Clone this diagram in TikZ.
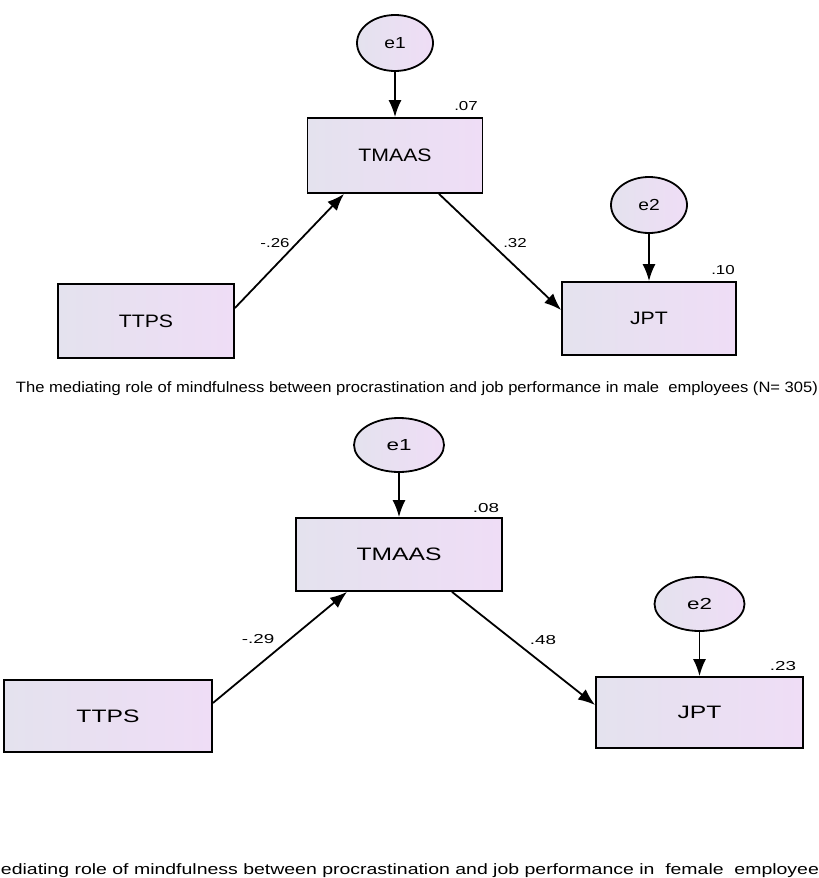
\documentclass[tikz,border=0pt]{standalone}
\usepackage{fontspec}
\setmainfont{Liberation Sans}
\usepackage{graphicx}
\usetikzlibrary{arrows.meta,shapes.geometric}
\definecolor{boxL}{RGB}{228,226,238}
\definecolor{boxR}{RGB}{239,221,246}
\newcommand{\sx}[2]{\scalebox{#1}[1]{#2}}
\tikzset{
  var/.style={draw=black, line width=1.8pt, left color=boxL, right color=boxR,
    font=\fontsize{18}{18}\selectfont, inner sep=0pt},
  err/.style={ellipse, draw=black, line width=1.8pt, left color=boxL, right color=boxR,
    font=\fontsize{16}{16}\selectfont, inner sep=0pt},
  coef/.style={font=\fontsize{13}{13}\selectfont, inner sep=0pt},
  path/.style={line width=1.8pt, -{Latex[length=17pt,width=13pt]}},
  caption/.style={font=\fontsize{15}{15}\selectfont, inner sep=0pt}
}

\begin{document}
\begin{tikzpicture}[x=1pt, y=-1pt]
  \useasboundingbox (0,0) rectangle (819,878);

  % male employees
  \node[err, minimum width=76pt, minimum height=56pt] (E1-M) at (395,43) {\sx{1.2}{e1}};
  \node[var, minimum width=175pt, minimum height=75pt] (TMAAS-M) at (395,155.5) {\sx{1.18}{TMAAS}};
  \node[var, minimum width=176pt, minimum height=74pt] (TTPS-M) at (146,321) {\sx{1.18}{TTPS}};
  \node[var, minimum width=174pt, minimum height=73pt] (JPT-M) at (649,318.5) {\sx{1.18}{JPT}};
  \node[err, minimum width=76pt, minimum height=56pt] (E2-M) at (649,205) {\sx{1.2}{e2}};

  \draw[path] (E1-M) -- (TMAAS-M) node[coef] (R1-M) at (466,106) {\sx{1.3}{.07}};
  \draw[path] ([yshift=13pt]TTPS-M.east) -- ([xshift=-51pt]TMAAS-M.south)
    node[coef] (A-M) at (275,243) {\sx{1.3}{-.26}};
  \draw[path] ([xshift=44pt]TMAAS-M.south) -- ([yshift=8.5pt]JPT-M.west)
    node[coef] (B-M) at (515,243) {\sx{1.3}{.32}};
  \draw[path] (E2-M) -- (JPT-M) node[coef] (R2-M) at (723,270) {\sx{1.3}{.10}};

  \node[caption] (CAP-M) at (417,389) {\resizebox{802pt}{\height}{The mediating role of mindfulness between procrastination and job performance in male~ employees (N= 305)}};

  % female employees
  \node[err, minimum width=90pt, minimum height=54pt] (E1-F) at (399,445) {\sx{1.4}{e1}};
  \node[var, minimum width=206pt, minimum height=73pt] (TMAAS-F) at (399,554.5) {\sx{1.37}{TMAAS}};
  \node[var, minimum width=208pt, minimum height=72pt] (TTPS-F) at (108,716) {\sx{1.37}{TTPS}};
  \node[var, minimum width=207pt, minimum height=71pt] (JPT-F) at (699.5,712.5) {\sx{1.37}{JPT}};
  \node[err, minimum width=90pt, minimum height=54pt] (E2-F) at (699.5,604) {\sx{1.4}{e2}};

  \draw[path] (E1-F) -- (TMAAS-F) node[coef] (R1-F) at (486,508) {\sx{1.45}{.08}};
  \draw[path] ([yshift=13pt]TTPS-F.east) -- ([xshift=-52pt]TMAAS-F.south)
    node[coef] (A-F) at (258,639) {\sx{1.45}{-.29}};
  \draw[path] ([xshift=53pt]TMAAS-F.south) -- ([yshift=7.5pt]JPT-F.west)
    node[coef] (B-F) at (543,640) {\sx{1.45}{.48}};
  \draw[path] (E2-F) -- (JPT-F) node[coef] (R2-F) at (783,666) {\sx{1.45}{.23}};

  \node[caption] (CAP-F) at (410,871) {\resizebox{818pt}{\height}{ediating role of mindfulness between procrastination and job performance in~ female~ employee}};
\end{tikzpicture}
\end{document}
